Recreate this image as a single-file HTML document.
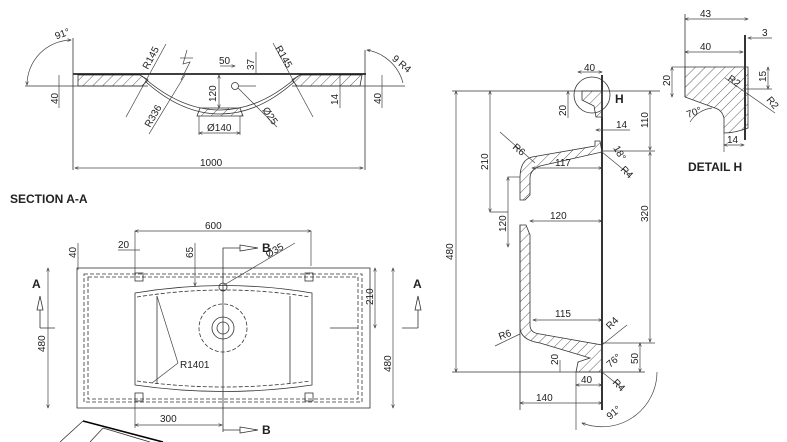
<!DOCTYPE html>
<html><head><meta charset="utf-8"><style>
html,body{margin:0;padding:0;background:#fff;}
svg{display:block;}
text{font-family:"Liberation Sans",sans-serif;fill:#222;font-size:10px;}
.b{font-weight:bold;font-size:12px;}
.l{stroke:#333;stroke-width:0.8;fill:none;}
.hf{stroke:#333;stroke-width:0.8;fill:url(#hat);}
.t{stroke:#000;stroke-width:1.6;fill:none;}
.d{stroke:#444;stroke-width:0.7;fill:none;}
.dash{stroke:#333;stroke-width:0.8;fill:none;stroke-dasharray:4 2;}
</style></head><body>
<svg width="787" height="442" viewBox="0 0 787 442" xmlns="http://www.w3.org/2000/svg">
<defs>
<pattern id="hat" width="7" height="7" patternUnits="userSpaceOnUse" patternTransform="rotate(45)">
<line x1="0" y1="0" x2="0" y2="7" stroke="#333" stroke-width="0.8"/></pattern>
<marker id="a" markerWidth="6" markerHeight="6" refX="5" refY="3" orient="auto-start-reverse"><path d="M0,1 L5,3 L0,5" fill="none" stroke="#333" stroke-width="0.8"/></marker>
</defs>

<!-- SECTION A-A -->
<line class="t" x1="73" y1="74" x2="366" y2="74"/>
<line class="l" x1="25" y1="86" x2="148" y2="86"/>
<line class="l" x1="292" y1="86" x2="405" y2="86"/>
<path d="M78,75 L140,75 L148,80 L142,86 L78,86 Z" class="hf"/>
<path d="M300,75 L362,75 L360,86 L297,86 L292,80 Z" class="hf"/>
<path class="l" d="M142,76 Q180,110 220,110 Q260,110 298,76"/>
<path class="l" d="M146,82 Q182,114 220,114 Q258,114 294,82"/>
<path d="M200,108 L240,108 L243,116 L197,116 Z" class="hf"/>
<line class="l" x1="73" y1="38" x2="73" y2="170"/>
<line class="l" x1="365" y1="50" x2="365" y2="170"/>
<line class="d" x1="75" y1="168" x2="363" y2="168" marker-start="url(#a)" marker-end="url(#a)"/>
<text x="200" y="166">1000</text>
<path class="d" d="M27,85 A45,45 0 0 1 71,40" marker-start="url(#a)" marker-end="url(#a)"/>
<text x="55" y="38" transform="rotate(-20 60 35)">91°</text>
<path class="d" d="M367,50 A45,45 0 0 1 403,83" marker-start="url(#a)"/>
<text x="392" y="62" transform="rotate(40 395 60)">9 R4</text>
<line class="d" x1="59" y1="75" x2="59" y2="108"/><text x="58" y="104" transform="rotate(-90 58 104)">40</text>
<line class="d" x1="382" y1="75" x2="382" y2="108"/><text x="381" y="104" transform="rotate(-90 381 104)">40</text>
<line class="d" x1="340" y1="75" x2="340" y2="108"/><text x="338" y="105" transform="rotate(-90 338 105)">14</text>
<line class="d" x1="219" y1="75" x2="219" y2="108" marker-start="url(#a)" marker-end="url(#a)"/><text x="216" y="102" transform="rotate(-90 216 102)">120</text>
<line class="d" x1="220" y1="66" x2="235" y2="66" marker-end="url(#a)"/><text x="219" y="64">50</text>
<line class="d" x1="256" y1="52" x2="256" y2="74"/><text x="254" y="70" transform="rotate(-90 254 70)">37</text>
<circle cx="235" cy="86" r="3.5" class="l" stroke-width="1.5"/><line class="d" x1="238" y1="86" x2="256" y2="86"/>
<line class="d" x1="238" y1="88" x2="277" y2="127"/><text x="262" y="110" transform="rotate(55 262 110)">Ø25</text>
<line class="d" x1="199" y1="133" x2="240" y2="133" marker-start="url(#a)" marker-end="url(#a)"/><line class="d" x1="199" y1="116" x2="199" y2="135"/><line class="d" x1="240" y1="116" x2="240" y2="135"/>
<text x="207" y="131">Ø140</text>
<line class="d" x1="126" y1="117" x2="166" y2="44"/><text x="148" y="70" transform="rotate(-62 148 70)">R145</text>
<line class="d" x1="273" y1="43" x2="313" y2="117"/><text x="275" y="48" transform="rotate(60 275 48)">R145</text>
<line class="d" x1="149" y1="134" x2="185" y2="75"/><text x="150" y="128" transform="rotate(-60 150 128)">R336</text>
<path class="d" d="M187,50 L183,64 L190,62 L181,80"/><line class="d" x1="180" y1="58" x2="193" y2="58"/>
<text x="10" y="203" class="b">SECTION A-A</text>

<!-- Plan view -->
<rect x="77" y="268" width="293" height="140" class="l" stroke-width="1.2"/>
<rect x="84" y="274" width="278" height="128" class="dash"/>
<rect x="88" y="277" width="270" height="122" class="dash"/>
<path class="l" d="M135,293 Q224,278 312,293 L312,385 Q224,398 135,385 Z"/>
<path class="dash" d="M137,297 Q224,283 310,297"/>
<path class="dash" d="M137,381 Q224,393 310,381"/>
<line class="l" x1="157" y1="296" x2="157" y2="384"/>
<line class="l" x1="290" y1="296" x2="290" y2="384"/>
<circle cx="223" cy="328" r="24" class="dash"/>
<circle cx="223" cy="328" r="11" class="l"/>
<circle cx="223" cy="328" r="6" class="l"/>
<circle cx="223" cy="287" r="4" class="l"/>
<rect x="135" y="273" width="8" height="8" class="l"/><rect x="305" y="273" width="8" height="8" class="l"/>
<rect x="135" y="393" width="8" height="8" class="l"/><rect x="305" y="393" width="8" height="8" class="l"/>
<line class="l" x1="223" y1="263" x2="223" y2="432"/>
<line class="d" x1="135" y1="231" x2="311" y2="231" marker-start="url(#a)" marker-end="url(#a)"/>
<line class="d" x1="135" y1="231" x2="135" y2="273"/><line class="d" x1="311" y1="231" x2="311" y2="266"/>
<text x="205" y="229">600</text>
<line class="d" x1="118" y1="250" x2="140" y2="250"/><text x="118" y="248">20</text>
<line class="d" x1="78" y1="243" x2="78" y2="270"/><text x="76" y="258" transform="rotate(-90 76 258)">40</text>
<line class="d" x1="195" y1="243" x2="195" y2="286" marker-end="url(#a)"/><text x="193" y="258" transform="rotate(-90 193 258)">65</text>
<line class="d" x1="224" y1="285" x2="295" y2="243"/><text x="268" y="258" transform="rotate(-30 268 258)">Ø35</text>
<path class="l" d="M223,263 L223,248 L240,248"/><path class="l" d="M240,245 L258,248 L240,251 Z"/><text x="262" y="252" class="b">B</text>
<path class="l" d="M223,430 L240,430"/><path class="l" d="M240,427 L258,430 L240,433 Z"/><text x="262" y="434" class="b">B</text>
<line class="d" x1="48" y1="268" x2="48" y2="408" marker-start="url(#a)" marker-end="url(#a)"/><text x="45" y="352" transform="rotate(-90 45 352)">480</text>
<line class="d" x1="393" y1="268" x2="393" y2="408" marker-start="url(#a)" marker-end="url(#a)"/><text x="391" y="372" transform="rotate(-90 391 372)">480</text>
<line class="d" x1="375" y1="268" x2="375" y2="328" marker-start="url(#a)" marker-end="url(#a)"/><text x="373" y="305" transform="rotate(-90 373 305)">210</text>
<line class="d" x1="135" y1="401" x2="135" y2="428"/>
<line class="d" x1="135" y1="425" x2="222" y2="425" marker-start="url(#a)" marker-end="url(#a)"/><text x="160" y="422">300</text>
<line class="d" x1="157" y1="296" x2="178" y2="363"/><line class="d" x1="152" y1="383" x2="178" y2="363"/><text x="180" y="368">R1401</text>
<text x="32" y="288" class="b">A</text><path class="l" d="M40,328 L55,328 M40,328 L40,310"/><path class="l" d="M37,310 L40,296 L43,310 Z"/>
<text x="413" y="288" class="b">A</text><path class="l" d="M418,328 L402,328 M418,328 L418,310"/><path class="l" d="M415,310 L418,296 L421,310 Z"/>
<line class="l" x1="330" y1="328" x2="358" y2="328"/>
<path class="t" d="M83,421 L163,442"/><line class="l" x1="83" y1="421" x2="60" y2="442"/><line class="l" x1="103" y1="428" x2="90" y2="442"/><path class="l" d="M103,428 L150,442"/>

<!-- SECTION B-B -->
<line class="t" x1="602" y1="75" x2="602" y2="410"/>
<circle cx="592" cy="95" r="18" class="l"/>
<path d="M582,91 L602,91 L602,117 L596,117 L594,106 L582,100 Z" class="hf"/>
<text x="615" y="103" class="b">H</text>
<path d="M600,141 L602,152 L540,166 Q530,170 530,178 L530,195 L525,200 L520,200 L520,178 Q520,160 532,157 L595,146 L595,141 Z" class="hf"/>
<path d="M520,225 L526,225 L530,235 L530,325 Q530,333 540,334 L602,345 L602,372 L576,372 L578,362 L590,358 L540,343 Q520,340 520,327 Z" class="hf"/>
<line class="l" x1="520" y1="225" x2="520" y2="410"/>
<line class="l" x1="452" y1="91" x2="660" y2="91"/>
<line class="l" x1="452" y1="372" x2="645" y2="372"/>
<line class="d" x1="456" y1="91" x2="456" y2="372" marker-start="url(#a)" marker-end="url(#a)"/><text x="453" y="260" transform="rotate(-90 453 260)">480</text>
<line class="d" x1="490" y1="91" x2="490" y2="212" marker-start="url(#a)" marker-end="url(#a)"/><text x="488" y="170" transform="rotate(-90 488 170)">210</text>
<line class="d" x1="490" y1="212" x2="508" y2="212"/>
<line class="d" x1="508" y1="177" x2="508" y2="247" marker-start="url(#a)" marker-end="url(#a)"/><text x="506" y="232" transform="rotate(-90 506 232)">120</text>
<line class="d" x1="508" y1="177" x2="520" y2="177"/>
<line class="d" x1="650" y1="91" x2="650" y2="150" marker-start="url(#a)" marker-end="url(#a)"/><text x="648" y="128" transform="rotate(-90 648 128)">110</text>
<line class="d" x1="602" y1="151" x2="655" y2="151"/>
<line class="d" x1="650" y1="152" x2="650" y2="342" marker-start="url(#a)" marker-end="url(#a)"/><text x="648" y="222" transform="rotate(-90 648 222)">320</text>
<line class="d" x1="602" y1="343" x2="655" y2="343"/>
<line class="d" x1="640" y1="343" x2="640" y2="372" marker-start="url(#a)" marker-end="url(#a)"/><text x="638" y="364" transform="rotate(-90 638 364)">50</text>
<line class="d" x1="568" y1="91" x2="568" y2="118" marker-start="url(#a)"/><text x="566" y="116" transform="rotate(-90 566 116)">20</text>
<line class="d" x1="578" y1="72" x2="602" y2="72" marker-start="url(#a)" marker-end="url(#a)"/><text x="584" y="71">40</text>
<line class="d" x1="596" y1="130" x2="630" y2="130" marker-start="url(#a)"/><text x="616" y="128">14</text>
<line class="d" x1="532" y1="168" x2="602" y2="168" marker-start="url(#a)" marker-end="url(#a)"/><text x="555" y="166">117</text>
<line class="d" x1="530" y1="221" x2="602" y2="221" marker-start="url(#a)" marker-end="url(#a)"/><text x="550" y="219">120</text>
<line class="d" x1="533" y1="320" x2="602" y2="320" marker-start="url(#a)" marker-end="url(#a)"/><text x="555" y="317">115</text>
<line class="d" x1="500" y1="132" x2="535" y2="163"/><text x="512" y="148" transform="rotate(40 512 148)">R6</text>
<line class="d" x1="495" y1="346" x2="520" y2="334"/><text x="500" y="340" transform="rotate(-20 500 340)">R6</text>
<line class="d" x1="602" y1="152" x2="630" y2="175"/><text x="620" y="170" transform="rotate(45 620 170)">R4</text>
<line class="d" x1="602" y1="345" x2="627" y2="325"/><text x="610" y="330" transform="rotate(-45 610 330)">R4</text>
<line class="d" x1="602" y1="372" x2="622" y2="388"/><text x="612" y="383" transform="rotate(45 612 383)">R4</text>
<text x="613" y="148" transform="rotate(60 613 148)">18°</text>
<text x="610" y="368" transform="rotate(-40 610 368)">76°</text>
<line class="d" x1="560" y1="360" x2="560" y2="372"/><text x="558" y="365" transform="rotate(-90 558 365)">20</text>
<line class="d" x1="576" y1="372" x2="576" y2="430"/>
<line class="d" x1="576" y1="385" x2="602" y2="385" marker-start="url(#a)" marker-end="url(#a)"/><text x="581" y="383">40</text>
<line class="d" x1="520" y1="403" x2="602" y2="403" marker-start="url(#a)" marker-end="url(#a)"/><text x="536" y="401">140</text>
<path class="d" d="M582,423 A55,55 0 0 0 657,372" marker-start="url(#a)"/><text x="610" y="420" transform="rotate(-40 610 420)">91°</text>

<!-- DETAIL H -->
<line class="l" x1="685" y1="14" x2="685" y2="97"/>
<line class="d" x1="685" y1="19" x2="748" y2="19" marker-start="url(#a)" marker-end="url(#a)"/><text x="700" y="17">43</text>
<line class="t" x1="745" y1="35" x2="745" y2="140"/>
<line class="d" x1="748" y1="38" x2="772" y2="38" marker-start="url(#a)"/><text x="762" y="36">3</text>
<line class="d" x1="685" y1="52" x2="743" y2="52" marker-start="url(#a)" marker-end="url(#a)"/><text x="700" y="50">40</text>
<path d="M685,67 L748,67 L748,128 Q735,133 724,133 L724,118 Q722,110 715,108 L685,97 Z" class="hf"/>
<line class="d" x1="672" y1="67" x2="685" y2="67"/><line class="d" x1="672" y1="67" x2="672" y2="97" marker-start="url(#a)" marker-end="url(#a)"/><text x="670" y="86" transform="rotate(-90 670 86)">20</text>
<line class="d" x1="768" y1="67" x2="768" y2="89" marker-start="url(#a)" marker-end="url(#a)"/><line class="d" x1="745" y1="89" x2="772" y2="89"/><text x="766" y="82" transform="rotate(-90 766 82)">15</text>
<line class="d" x1="725" y1="78" x2="775" y2="113"/><text x="727" y="80" transform="rotate(35 727 80)">R2</text><text x="766" y="100" transform="rotate(50 766 100)">R2</text>
<path class="d" d="M690,122 A30,30 0 0 1 712,108"/><text x="688" y="118" transform="rotate(-20 688 118)">70°</text>
<line class="d" x1="724" y1="133" x2="724" y2="152"/>
<line class="d" x1="724" y1="145" x2="744" y2="145" marker-start="url(#a)" marker-end="url(#a)"/><text x="727" y="143">14</text>
<text x="688" y="171" class="b">DETAIL H</text>
</svg>
</body></html>
